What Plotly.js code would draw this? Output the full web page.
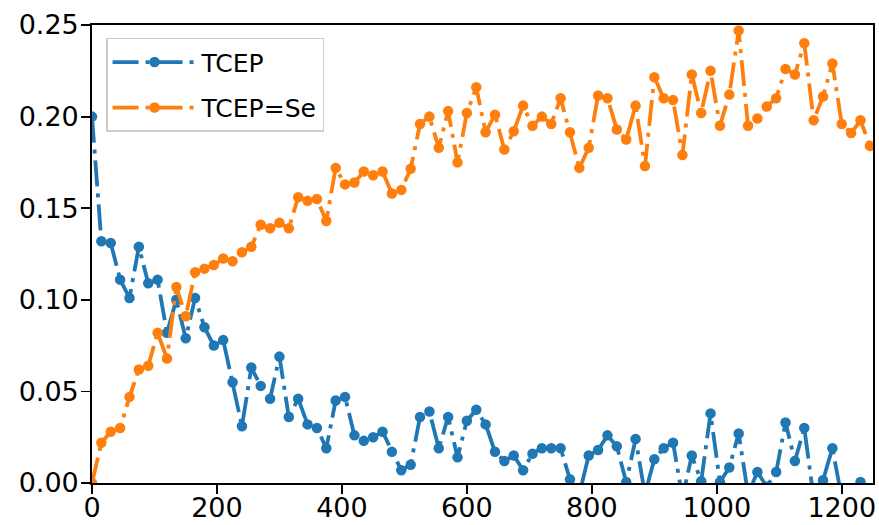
<!DOCTYPE html>
<html>
<head>
<meta charset="utf-8">
<script src="https://cdn.plot.ly/plotly-3.0.1.min.js"></script>
<style>
  html, body { margin: 0; padding: 0; background: #ffffff; }
  #chart { width: 879px; height: 525px; }
</style>
</head>
<body>
<div id="chart"></div>
<script>
// Time points
const timeValues = [0, 15, 30, 45, 60, 75, 90, 105, 120, 135, 150, 165, 180, 195, 210, 225, 240, 255, 270, 285,
  300, 315, 330, 345, 360, 375, 390, 405, 420, 435, 450, 465, 480, 495, 510, 525, 540, 555, 570, 585,
  600, 615, 630, 645, 660, 675, 690, 705, 720, 735, 750, 765, 780, 795, 810, 825, 840, 855, 870, 885,
  900, 915, 930, 945, 960, 975, 990, 1005, 1020, 1035, 1050, 1065, 1080, 1095, 1110, 1125, 1140, 1155, 1170, 1185,
  1200, 1215, 1230, 1245];

const tcepValues = [0.200, 0.132, 0.131, 0.111, 0.101, 0.129, 0.109, 0.111, 0.082, 0.100, 0.079, 0.101, 0.085, 0.075, 0.078, 0.055, 0.031, 0.063, 0.053, 0.046,
  0.069, 0.036, 0.046, 0.032, 0.030, 0.019, 0.045, 0.047, 0.026, 0.023, 0.025, 0.028, 0.017, 0.007, 0.010, 0.036, 0.039, 0.019, 0.036, 0.014,
  0.034, 0.040, 0.032, 0.017, 0.012, 0.015, 0.007, 0.016, 0.019, 0.019, 0.019, 0.002, -0.006, 0.015, 0.018, 0.026, 0.020, 0.0005, 0.024, -0.006,
  0.013, 0.019, 0.022, -0.008, 0.015, 0.001, 0.038, 0.0005, 0.0085, 0.027, -0.006, 0.006, -0.002, 0.006, 0.033, 0.012, 0.030, -0.008, 0.0015, 0.019,
  -0.008, -0.006, 0.0005, -0.005];

const tcepSeValues = [0.000, 0.022, 0.028, 0.030, 0.047, 0.062, 0.064, 0.082, 0.068, 0.107, 0.091, 0.115, 0.117, 0.119, 0.1225, 0.121, 0.126, 0.129, 0.141, 0.139,
  0.142, 0.139, 0.156, 0.154, 0.155, 0.143, 0.172, 0.163, 0.164, 0.170, 0.168, 0.170, 0.158, 0.160, 0.1715, 0.196, 0.200, 0.183, 0.203, 0.175,
  0.202, 0.216, 0.1915, 0.201, 0.182, 0.192, 0.206, 0.195, 0.200, 0.196, 0.210, 0.1915, 0.172, 0.183, 0.2115, 0.210, 0.193, 0.1875, 0.206, 0.173,
  0.2215, 0.210, 0.209, 0.179, 0.223, 0.202, 0.225, 0.195, 0.212, 0.247, 0.195, 0.199, 0.2055, 0.210, 0.226, 0.223, 0.240, 0.198, 0.211, 0.229,
  0.196, 0.191, 0.198, 0.184];

const seriesNames = ["TCEP", "TCEP=Se"];
const xTickValues = [0, 200, 400, 600, 800, 1000, 1200];
const yTickValues = [0.00, 0.05, 0.10, 0.15, 0.20, 0.25];

const fontFamily = '"DejaVu Sans", "Liberation Sans", sans-serif';
const dashPattern = "26px,7px,4px,7px";

const traces = [
  {
    x: timeValues, y: tcepValues, name: seriesNames[0], legendgroup: "a",
    type: "scatter", mode: "lines+markers",
    line: { color: "#1f77b4", width: 3.8, dash: dashPattern },
    marker: { color: "#1f77b4", size: 10.5 }
  },
  {
    x: timeValues, y: tcepSeValues, name: seriesNames[1], legendgroup: "b",
    type: "scatter", mode: "lines+markers",
    line: { color: "#ff7f0e", width: 3.8, dash: dashPattern },
    marker: { color: "#ff7f0e", size: 10.5 }
  }
];

const axisCommon = {
  showgrid: false, zeroline: false,
  showline: true, mirror: true, linecolor: "#000000", linewidth: 1.8,
  ticks: "outside", ticklen: 9, tickwidth: 1.8, tickcolor: "#000000",
  tickfont: { family: fontFamily, size: 27, color: "#000000" }
};

const layout = {
  width: 879, height: 525,
  margin: { l: 92, r: 6, t: 25, b: 42, pad: 0 },
  paper_bgcolor: "#ffffff", plot_bgcolor: "#ffffff",
  font: { family: fontFamily, size: 26, color: "#000000" },
  showlegend: true,
  legend: {
    x: 0.018, y: 0.972, xanchor: "left", yanchor: "top",
    bgcolor: "rgba(255,255,255,0.8)", bordercolor: "#cccccc", borderwidth: 1.5,
    font: { family: fontFamily, size: 25, color: "#000000" },
    itemwidth: 84, traceorder: "grouped", tracegroupgap: 10
  },
  xaxis: Object.assign({}, axisCommon, {
    range: [0, 1250], tickvals: xTickValues, ticktext: xTickValues.map(String),
    ticklabelstandoff: -9
  }),
  yaxis: Object.assign({}, axisCommon, {
    range: [0, 0.25], tickvals: yTickValues, ticktext: yTickValues.map(v => v.toFixed(2)),
    ticklabelstandoff: -3
  })
};

Plotly.newPlot("chart", traces, layout, { displayModeBar: false, staticPlot: true });
</script>
</body>
</html>
